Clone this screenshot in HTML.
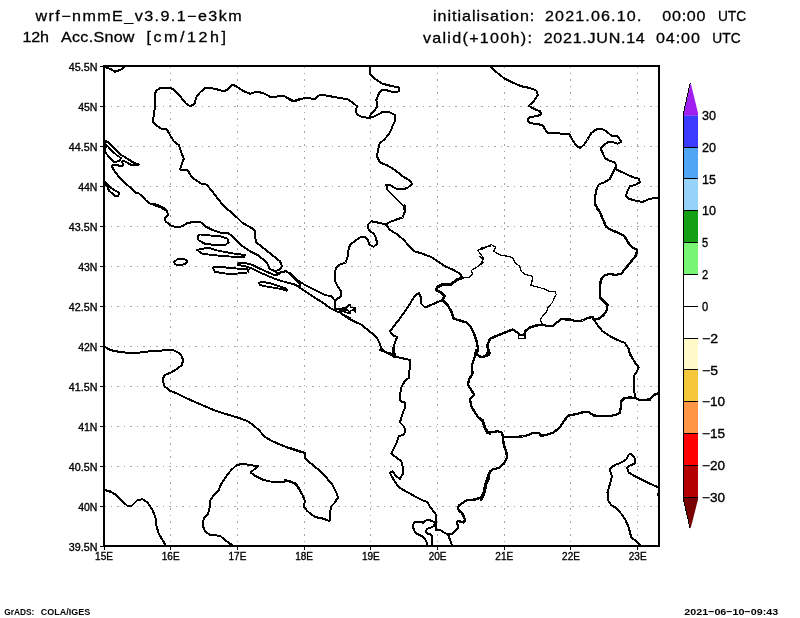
<!DOCTYPE html>
<html><head><meta charset="utf-8"><title>wrf snow</title>
<style>
html,body{margin:0;padding:0;background:#fff;}
body{width:800px;height:618px;overflow:hidden;position:relative;font-family:"Liberation Sans",sans-serif;}
svg{position:absolute;left:0;top:0;display:block;will-change:transform;transform:translateZ(0)}
text{font-family:"Liberation Sans",sans-serif;fill:#000}
.ax{font-size:11px;stroke:#000;stroke-width:.35px}
.ttl{font-family:"Liberation Sans",sans-serif;font-size:14px;stroke:#000;stroke-width:.28px}
.ft{font-family:"Liberation Sans",sans-serif;font-weight:bold;font-size:9.8px}
.cb{font-size:12.5px;stroke:#000;stroke-width:.35px}
</style></head><body>
<svg width="800" height="618" viewBox="0 0 800 618">
<rect x="0" y="0" width="800" height="618" fill="#fff"/>

<g stroke="#a4a4a4" stroke-width="1" stroke-dasharray="1.6 4.9" fill="none" shape-rendering="crispEdges">
<path d="M170.5 66V546"/>
<path d="M237.5 66V546"/>
<path d="M304.5 66V546"/>
<path d="M370.5 66V546"/>
<path d="M437.5 66V546"/>
<path d="M504.5 66V546"/>
<path d="M570.5 66V546"/>
<path d="M637.5 66V546"/>
<path d="M104 106.5H659"/>
<path d="M104 146.5H659"/>
<path d="M104 186.5H659"/>
<path d="M104 226.5H659"/>
<path d="M104 266.5H659"/>
<path d="M104 306.5H659"/>
<path d="M104 346.5H659"/>
<path d="M104 386.5H659"/>
<path d="M104 426.5H659"/>
<path d="M104 466.5H659"/>
<path d="M104 506.5H659"/>
</g>
<clipPath id="c"><rect x="104" y="66" width="555" height="480"/></clipPath>
<g clip-path="url(#c)" fill="none" stroke="#000" stroke-linejoin="round" stroke-linecap="round" shape-rendering="crispEdges">
<path d="M104.25 67.0 L110.0 68.75 L115.0 71.75 L121.25 69.5 L123.75 67.0 L124.5 66.0" stroke-width="2.0"/>
<path d="M300.0 99.5 L293.75 101.25 L288.75 98.75 L283.75 95.75 L275.0 96.75 L270.0 96.75 L263.75 93.25 L257.0 91.75 L250.0 93.75 L243.75 91.25 L236.25 86.25 L232.0 84.5 L227.5 89.5 L223.75 91.25 L217.5 89.5 L211.25 88.0 L205.0 88.0 L200.0 92.5 L196.25 97.5 L194.5 103.75 L190.5 106.25 L186.25 103.75 L180.0 96.25 L172.5 88.75 L167.5 87.5 L161.25 87.5 L157.0 90.0 L154.5 93.75 L154.5 100.0 L154.5 110.0 L153.75 116.25 L152.5 121.25 L155.5 125.0 L161.25 128.75 L167.0 129.5 L170.0 135.0 L173.75 141.25 L178.75 145.0 L181.25 152.5 L183.75 158.75 L182.0 163.75 L180.0 169.5 L187.5 170.0 L190.5 175.0 L193.75 178.75 L201.25 183.75 L206.25 184.5 L211.25 190.0 L218.75 200.0 L227.5 210.0" stroke-width="2.0"/>
<path d="M104.53 140.36 L109.06 142.94 L114.24 148.12 L120.71 154.6 L127.18 158.48 L133.01 162.36 L138.58 164.3 L138.19 165.21 L131.07 164.95 L127.18 162.62 L123.3 160.81 L122.01 162.36 L123.3 163.92 L122.65 165.99 L119.42 165.99 L116.83 164.69 L113.59 164.69 L111.91 165.6 L112.94 168.83 L116.18 173.37 L120.06 178.54 L125.89 183.72 L131.07 188.25 L135.6 192.78 L138.83 193.43 L142.72 196.67 L145.95 200.55 L150.49 203.79 L155.66 204.43 L160.84 206.38 L166.02 209.61" stroke-width="2.0"/>
<path d="M104.53 143.59 L107.12 145.53 L111.65 150.71 L116.83 155.24 L120.71 157.83 L120.06 160.42 L116.83 161.72 L113.59 161.72 L109.71 157.83 L106.47 153.95 L104.53 151.36" stroke-width="1.9"/>
<path d="M104.53 141.65 L105.83 145.53 L105.18 149.42 L104.53 152.01" stroke-width="2.3"/>
<path d="M104.53 181.13 L106.47 183.72 L109.71 186.96 L114.24 190.19 L118.12 192.14 L119.42 194.08 L117.48 196.28 L114.89 195.76 L112.3 193.43 L109.06 190.84 L107.77 187.61 L106.47 185.66 L104.53 185.02" stroke-width="1.9"/>
<path d="M290.0 100.0 L293.75 101.25 L300.0 98.75 L308.75 98.0 L315.0 99.5 L317.5 96.25 L321.25 94.5 L330.0 96.25 L340.0 98.0 L347.5 99.25 L352.5 102.5 L357.0 106.25 L355.5 111.25 L357.5 115.0 L362.5 117.0 L370.0 118.0" stroke-width="2.0"/>
<path d="M370.5 66.25 L369.5 73.75 L375.0 78.75 L382.5 83.75 L392.5 86.25 L398.75 87.5 L398.75 91.25 L393.75 92.5 L387.5 90.5 L382.0 89.5 L378.75 93.75 L376.25 100.0 L377.5 106.25 L373.75 111.25 L370.5 115.0 L370.0 118.0 L376.25 115.5 L382.5 112.0 L390.0 112.5 L395.0 115.0 L395.5 120.0 L392.5 126.25 L390.0 132.5 L385.0 138.75 L379.5 143.75 L378.0 150.0 L377.0 156.25 L380.0 162.5 L387.5 165.5 L395.0 170.0 L402.5 176.25 L410.0 180.75 L412.0 183.75 L407.5 188.0 L401.25 189.5 L396.25 188.75 L390.0 185.0 L386.25 185.0 L387.5 190.0 L392.5 195.0 L400.0 202.5 L403.75 206.25 L404.5 210.0" stroke-width="2.0"/>
<path d="M490.5 66.25 L496.25 72.0 L503.75 78.0 L512.5 82.5 L521.25 86.25 L530.0 88.0 L536.25 90.5 L538.0 95.0 L533.75 101.25 L528.75 105.75 L533.75 108.75 L540.0 111.25 L541.25 114.5 L536.25 116.25 L529.5 117.0 L527.5 120.0 L530.0 123.0 L536.25 124.0 L542.5 125.0 L545.5 130.0 L547.5 133.0 L555.0 133.0 L562.5 133.75 L569.5 134.5 L572.5 140.0 L576.25 145.5 L580.0 148.0 L583.75 145.0 L587.5 139.5 L591.25 133.0 L596.25 129.5 L601.25 128.75 L606.25 131.25 L611.25 135.5 L617.0 136.25 L620.0 139.5 L621.25 142.0 L617.5 143.75 L612.5 142.0 L607.5 142.5 L602.5 146.25 L600.75 148.75 L603.0 153.75 L605.0 158.0 L608.75 160.5 L615.0 162.5 L616.25 166.25 L615.0 168.75" stroke-width="2.0"/>
<path d="M615.0 168.75 L623.75 173.0 L632.5 177.0 L638.75 178.75 L640.0 182.0 L636.25 184.5 L630.0 186.25 L627.5 191.25 L625.75 196.25 L628.75 198.75 L635.0 200.5 L642.5 202.0 L650.0 198.75 L658.75 197.5" stroke-width="2.0"/>
<path d="M615.0 168.75 L612.5 173.75 L610.0 178.75 L605.0 182.0 L598.75 184.5 L596.25 190.0 L595.0 197.5 L595.5 203.75 L597.5 210.0" stroke-width="2.0"/>
<path d="M153.75 205.0 L161.25 207.5 L167.0 211.25 L168.0 215.0 L165.0 217.5 L165.5 221.25 L170.0 225.0 L176.25 227.5 L182.5 226.25 L187.5 223.0 L195.0 221.75 L201.25 222.5 L205.0 226.25 L212.5 230.0 L220.0 232.5 L227.5 233.0 L232.5 236.25 L237.5 241.25 L242.5 246.25 L250.0 251.25 L257.5 255.0 L262.5 258.75 L267.5 263.75 L269.5 268.75 L275.0 271.25 L278.0 273.75 L281.25 272.0 L286.25 271.25 L291.25 275.0 L296.25 280.0 L300.0 283.75" stroke-width="2.0"/>
<path d="M222.5 205.0 L226.25 208.0 L231.25 212.5 L237.0 217.5 L242.5 223.0 L250.0 227.0 L254.5 230.0 L255.0 236.25 L256.25 242.5 L261.25 246.25 L267.5 251.25 L273.75 256.25 L280.0 261.25 L282.0 266.25 L280.0 269.5 L275.0 271.25" stroke-width="2.0"/>
<path d="M197.5 236.25 L200.0 234.5 L210.0 235.5 L220.0 236.25 L227.5 238.75 L228.75 242.5 L225.0 245.0 L215.0 245.0 L205.0 243.75 L198.75 240.5 L197.5 236.25" stroke-width="1.9"/>
<path d="M197.0 250.0 L202.5 248.75 L208.75 247.5 L215.0 250.0 L225.0 252.0 L235.0 253.75 L245.0 255.0 L243.75 257.5 L235.0 256.75 L225.0 256.25 L212.5 255.0 L202.5 253.75 L197.0 250.0" stroke-width="1.9"/>
<path d="M174.0 262.0 L177.5 259.25 L183.75 258.75 L187.5 261.25 L185.0 264.25 L178.75 265.0 L175.0 264.25 L174.0 262.0" stroke-width="1.9"/>
<path d="M213.0 267.5 L220.0 266.75 L230.0 268.0 L240.0 268.75 L248.75 269.5 L247.5 272.5 L240.0 273.25 L230.0 274.25 L222.5 273.0 L215.0 272.0 L213.0 267.5" stroke-width="1.9"/>
<path d="M258.75 283.0 L262.5 281.75 L270.0 283.25 L277.5 285.5 L286.25 288.75 L287.0 290.75 L280.0 288.75 L272.5 287.5 L265.0 286.25 L260.0 285.0 L258.75 283.0" stroke-width="1.9"/>
<path d="M279.5 274.0 L275.0 275.5 L267.5 272.0 L260.0 268.75 L252.5 265.0 L245.0 263.0 L238.75 262.5 L238.0 265.0 L245.0 266.25 L252.5 268.75 L260.0 272.5 L267.5 275.75 L275.0 278.75 L282.5 281.25 L290.0 283.25 L300.0 286.25" stroke-width="1.9"/>
<path d="M104.25 346.25 L110.0 350.0 L120.0 352.0 L130.0 353.0 L140.0 352.5 L150.0 351.25 L162.5 350.5 L172.5 350.0 L177.5 352.0 L181.25 355.0" stroke-width="2.0"/>
<path d="M404.5 205.0 L404.5 212.5 L402.5 217.5 L395.0 220.0 L388.75 222.5 L386.25 225.0" stroke-width="2.0"/>
<path d="M386.25 224.5 L380.0 223.0 L371.25 221.25 L367.5 225.0 L368.75 230.0 L373.75 233.75 L376.25 238.75 L377.0 243.75 L373.75 246.75 L369.5 245.0 L368.0 240.0 L365.0 237.0 L360.0 237.5 L354.5 241.25 L350.0 245.0 L348.0 251.25 L347.5 257.5 L345.5 262.5 L340.0 264.5 L336.25 267.5 L334.5 273.75 L334.5 280.0 L337.5 286.25 L341.25 291.25 L341.25 296.25 L336.25 299.5 L334.5 303.75 L335.0 308.75" stroke-width="2.0"/>
<path d="M290.0 273.25 L297.5 280.0 L305.0 285.0 L315.0 290.0 L325.0 295.0 L331.25 296.25 L334.5 300.0" stroke-width="1.9"/>
<path d="M290.0 283.25 L295.0 284.5 L302.5 289.5 L312.5 296.25 L322.5 302.5 L331.25 308.75 L336.25 311.25 L340.0 312.5 L345.0 316.25 L351.25 320.0 L356.25 322.5 L361.25 324.5 L366.25 328.75 L372.5 333.75 L377.5 338.75 L380.0 343.75 L381.25 348.75 L386.25 352.5 L392.5 353.75" stroke-width="2.0"/>
<path d="M335.0 309.38 L340.0 308.75 L346.25 307.75 L348.75 305.0 L350.0 304.38 L350.62 307.5 L355.0 307.75 L355.62 311.88 L353.75 310.0 L350.62 310.62 L350.0 313.75 L346.25 312.5 L342.5 311.25 L340.0 312.5 L343.75 315.0 L347.5 316.88 L350.0 318.12" stroke-width="1.7"/>
<path d="M340.0 310.0 L347.5 310.0 L349.38 312.5" stroke-width="1.7"/>
<path d="M386.25 225.0 L390.0 230.0 L397.5 234.5 L403.75 240.0 L408.75 245.5 L414.5 251.25 L422.5 253.75 L431.25 257.0 L437.5 261.25 L445.0 266.25 L452.5 269.5 L460.0 273.75 L462.5 278.0" stroke-width="2.0"/>
<path d="M462.5 278.0 L468.75 277.5 L472.5 273.75 L471.25 270.5 L476.25 267.5 L480.5 264.5 L483.75 258.75 L481.25 255.0 L478.0 250.5 L482.5 247.5 L490.0 246.25" stroke-width="1.2"/>
<path d="M462.5 278.0 L456.25 280.0 L451.25 284.5 L442.5 284.5 L437.5 287.0 L436.25 290.0 L441.25 292.5 L444.5 295.5 L442.5 300.0" stroke-width="2.8"/>
<path d="M442.5 300.0 L433.75 303.75 L425.0 307.5 L421.25 303.75 L420.5 296.25 L418.75 293.0 L414.5 296.25 L410.0 303.75 L405.0 311.25 L398.75 320.0 L393.75 326.25 L390.0 331.25 L392.5 335.0 L397.0 337.0 L395.0 342.5 L393.0 348.75 L393.75 355.0" stroke-width="2.0"/>
<path d="M442.5 300.0 L447.5 305.0 L451.25 311.25 L453.75 318.75 L460.0 320.5 L466.25 322.5 L471.25 327.5 L474.5 335.0 L477.0 342.5 L478.0 350.0 L476.25 355.0" stroke-width="2.3"/>
<path d="M595.5 205.0 L599.5 211.25 L603.0 219.5 L606.25 227.0 L612.5 230.5 L618.75 233.0 L624.5 236.25 L628.0 242.5 L632.5 247.5 L637.0 250.0 L636.25 255.0 L631.25 261.25 L626.25 267.5 L621.25 273.75 L615.0 275.0 L610.0 273.75 L604.5 275.5 L600.75 280.0 L600.0 287.5 L600.0 297.5 L603.75 301.25 L607.5 305.0 L607.0 310.0 L603.75 315.0 L598.75 318.75 L593.75 319.5" stroke-width="2.3"/>
<path d="M593.75 319.5 L592.5 317.0 L587.5 318.0 L582.5 320.5 L576.25 321.25 L570.0 319.5 L561.25 319.25 L556.25 323.0 L552.5 326.25 L547.5 326.25 L542.5 324.5" stroke-width="2.3"/>
<path d="M593.75 319.5 L597.5 325.0 L602.5 331.25 L610.0 336.25 L617.5 340.0 L625.0 343.0 L628.75 348.75 L630.0 355.0" stroke-width="2.0"/>
<path d="M480.0 250.0 L485.0 248.0 L491.25 244.5 L495.5 247.0 L493.75 251.25 L500.0 255.0 L507.5 256.25 L512.5 257.5 L515.0 262.5 L519.5 266.25 L521.25 271.25 L525.0 274.5 L532.5 276.25 L532.0 281.25 L530.75 285.5 L537.5 287.0 L543.75 288.75 L548.75 291.25 L555.0 291.25 L556.25 294.5 L553.75 298.75 L552.5 302.5 L548.0 307.5 L546.25 312.5 L542.5 316.25 L540.0 320.0 L542.5 323.75" stroke-width="1.2"/>
<path d="M542.5 324.5 L536.25 325.5 L530.0 327.5 L525.0 331.25 L524.5 334.5 L520.0 335.0 L517.5 332.5 L512.5 329.5 L505.0 332.5 L497.5 335.5 L490.0 338.75 L487.5 345.0 L488.0 351.25 L486.25 355.0" stroke-width="2.4"/>
<path d="M518.75 334.5 L525.0 334.5 L525.0 338.75 L518.75 338.75 L518.75 334.5" stroke-width="1.2"/>
<path d="M480.0 256.25 L482.5 258.75 L483.0 263.0 L480.0 265.0" stroke-width="1.2"/>
<path d="M181.25 355.0 L183.0 360.0 L182.0 365.0 L176.25 369.5 L170.0 373.0 L164.5 375.0 L162.5 380.0 L164.5 386.25 L170.0 390.75 L177.5 393.75 L185.0 397.5 L195.0 402.0 L205.0 406.25 L215.0 410.5 L225.0 413.75 L237.5 417.5 L246.25 420.5 L252.5 424.5 L258.75 430.0 L265.0 437.0 L272.5 441.25 L280.0 444.5 L287.5 447.5 L295.0 450.0 L300.0 452.0" stroke-width="2.0"/>
<path d="M104.25 490.0 L110.0 491.25 L116.25 495.0 L121.25 500.0" stroke-width="2.0"/>
<path d="M380.0 350.0 L386.25 352.5 L393.75 356.25 L401.25 358.0 L410.0 360.0 L410.0 367.5 L408.75 373.75 L409.5 377.5 L405.0 380.5 L401.25 387.5 L400.0 395.0 L400.5 401.25 L405.0 402.5 L404.5 408.75 L402.0 415.0 L400.0 422.5 L403.75 426.25 L405.5 430.5 L403.75 434.5 L398.75 436.25 L396.25 443.75 L393.0 450.0 L391.25 453.75 L396.25 457.5 L401.25 461.25 L403.0 467.5 L403.0 473.75 L400.0 478.75 L396.25 476.25 L392.5 471.25 L390.0 473.0 L393.75 480.0 L398.75 487.0 L403.5 490.0" stroke-width="2.0"/>
<path d="M476.25 350.0 L474.5 357.5 L472.0 365.0 L472.5 373.75 L468.75 380.0 L468.0 385.0 L471.25 390.0 L474.5 395.0 L470.0 398.75 L471.25 406.25 L475.0 412.5 L478.75 418.0 L482.5 420.0 L485.0 427.5 L488.0 432.5 L490.0 433.75" stroke-width="2.3"/>
<path d="M476.25 351.25 L478.75 356.25 L483.75 357.0 L488.75 355.0 L490.0 352.5" stroke-width="2.0"/>
<path d="M290.0 448.0 L297.5 450.5 L305.0 453.0 L305.5 458.75 L311.25 463.75 L318.75 470.0 L326.25 477.5 L332.5 485.0 L336.25 492.5 L338.0 497.5 L336.25 500.0" stroke-width="2.0"/>
<path d="M394.0 346.25 L394.0 352.5 L394.75 357.0" stroke-width="2.8"/>
<path d="M480.0 357.0 L485.0 356.25 L488.75 353.0 L489.5 350.0" stroke-width="2.0"/>
<path d="M628.75 350.0 L631.25 356.25 L635.0 362.5 L638.75 367.5 L636.25 372.5 L633.75 376.25 L633.75 385.0 L634.5 392.5 L635.0 398.0" stroke-width="2.0"/>
<path d="M480.0 418.0 L482.5 421.25 L485.0 428.75 L487.5 433.0 L492.5 432.0 L497.5 431.25 L502.0 432.5 L503.0 437.0" stroke-width="2.3"/>
<path d="M503.0 437.0 L512.5 437.0 L522.5 436.5 L528.75 435.0 L532.5 433.0 L538.75 433.0 L541.25 435.75 L546.25 435.0 L553.75 432.5 L560.0 427.0 L565.0 419.5 L568.75 415.5 L577.5 413.75 L583.75 412.0 L588.75 412.0 L593.75 415.5 L602.5 416.25 L610.0 416.25 L616.25 414.5 L620.0 413.0 L620.75 407.5 L621.25 401.25 L624.5 398.0 L630.0 397.5 L635.0 398.0 L640.0 400.0 L650.0 399.5 L653.75 395.0 L658.75 393.0" stroke-width="2.3"/>
<path d="M503.0 437.0 L503.75 445.0 L506.25 451.25 L507.0 457.5 L503.75 463.75 L498.75 468.0 L492.5 469.5 L489.5 472.5 L488.75 478.75 L486.25 483.75 L485.0 491.25 L482.5 497.5 L481.25 500.0" stroke-width="2.3"/>
<path d="M104.25 490.0 L111.25 492.0 L117.5 496.25 L122.5 501.25 L127.0 505.5 L132.0 505.5 L137.5 500.0 L142.5 499.25 L147.5 502.5 L152.5 510.0 L155.5 517.5 L156.25 525.0 L158.75 533.75 L162.5 540.0 L165.5 545.0" stroke-width="2.0"/>
<path d="M300.0 490.0 L296.25 483.75 L290.0 481.25 L280.0 481.75 L270.0 481.5 L262.5 479.5 L255.0 475.75 L250.75 472.5 L255.0 468.75 L258.0 466.25 L250.0 465.0 L242.0 463.75 L236.25 465.5 L231.25 470.0 L226.25 476.25 L221.25 483.75 L218.75 490.0 L213.75 495.0 L210.5 500.0 L210.0 506.25 L208.0 513.75 L203.75 518.75 L202.5 525.0 L205.0 531.25 L210.0 535.0 L220.0 535.75 L225.0 540.0 L230.0 543.75 L232.5 545.0" stroke-width="2.0"/>
<path d="M336.25 500.0 L335.0 502.5 L331.25 506.25 L330.0 512.5 L329.5 521.25 L323.75 518.75 L315.0 517.0 L307.5 511.25 L303.75 506.25 L305.0 501.25 L302.5 495.0 L298.75 488.75 L295.0 483.75 L290.0 481.75 L285.0 480.0" stroke-width="2.0"/>
<path d="M336.25 492.5 L338.0 497.0 L335.0 502.5" stroke-width="2.0"/>
<path d="M403.4 490.0 L409.71 493.4 L416.5 497.28 L422.33 500.19 L427.67 502.14 L429.13 505.53 L432.04 509.42 L434.95 512.82 L436.12 515.73 L436.12 523.01 L435.73 527.38 L436.12 529.81 L439.81 529.81 L442.72 531.75 L445.63 533.2 L448.06 534.66" stroke-width="2.0"/>
<path d="M490.0 471.25 L487.5 477.5 L485.0 485.0 L483.75 492.5 L481.25 497.5 L475.0 499.5 L467.5 500.0" stroke-width="2.3"/>
<path d="M448.06 534.66 L452.43 533.69 L455.34 530.78 L458.25 527.86 L458.25 525.92 L456.8 523.98 L457.28 521.55 L458.74 520.87 L461.17 522.04 L463.59 522.52 L465.05 520.1 L464.08 517.18 L462.14 513.3 L459.22 510.87 L457.77 507.48 L459.22 505.05 L463.11 502.62 L466.99 500.19 L470.39 499.71" stroke-width="2.3"/>
<path d="M448.06 534.66 L449.51 538.54 L450.97 542.43 L452.43 546.31" stroke-width="2.0"/>
<path d="M434.95 523.01 L432.52 521.07 L429.13 520.1 L427.67 519.61 L425.24 521.07 L423.3 523.01 L421.84 521.55 L415.53 521.55 L413.59 523.5 L412.62 526.41 L414.08 529.81 L415.05 532.23 L418.45 534.66 L421.84 536.12 L424.27 538.06 L426.21 540.97 L427.38 546.31" stroke-width="2.0"/>
<path d="M434.95 523.98 L433.5 526.41 L430.1 527.86 L427.18 528.83 L425.73 531.26 L427.18 533.69 L431.07 534.66 L432.04 536.6 L432.04 546.31" stroke-width="2.0"/>
<path d="M640.0 545.0 L636.25 541.25 L631.25 537.5 L628.75 527.5 L625.5 520.0 L621.25 513.75 L616.25 508.0 L611.25 505.0 L608.0 500.0 L607.5 492.5 L610.0 483.75 L612.0 476.25 L609.5 468.75 L615.0 465.0 L621.25 462.5 L626.25 459.5 L628.75 454.5 L631.25 453.75 L635.0 458.75 L634.5 463.75 L630.0 465.5 L627.0 467.5 L628.75 472.5 L635.0 476.25 L642.5 480.0 L650.0 483.75 L657.5 487.0 L659.25 488.75" stroke-width="2.0"/>
<path d="M659.25 490.0 L658.0 495.0 L658.75 496.25" stroke-width="2.0"/>
</g>
<rect x="104" y="66" width="555" height="480" fill="none" stroke="#000" stroke-width="2"/>
<g stroke="#000" stroke-width="1">
<path d="M104.5 546v4"/>
<path d="M170.5 546v4"/>
<path d="M237.5 546v4"/>
<path d="M304.5 546v4"/>
<path d="M370.5 546v4"/>
<path d="M437.5 546v4"/>
<path d="M504.5 546v4"/>
<path d="M570.5 546v4"/>
<path d="M637.5 546v4"/>
<path d="M104 66.5h-4"/>
<path d="M104 106.5h-4"/>
<path d="M104 146.5h-4"/>
<path d="M104 186.5h-4"/>
<path d="M104 226.5h-4"/>
<path d="M104 266.5h-4"/>
<path d="M104 306.5h-4"/>
<path d="M104 346.5h-4"/>
<path d="M104 386.5h-4"/>
<path d="M104 426.5h-4"/>
<path d="M104 466.5h-4"/>
<path d="M104 506.5h-4"/>
<path d="M104 546.5h-4"/>
</g>
<text class="ax" x="95.1" y="560" textLength="17.8" lengthAdjust="spacingAndGlyphs" xml:space="preserve">15E</text>
<text class="ax" x="161.81" y="560" textLength="17.8" lengthAdjust="spacingAndGlyphs" xml:space="preserve">16E</text>
<text class="ax" x="228.52" y="560" textLength="17.8" lengthAdjust="spacingAndGlyphs" xml:space="preserve">17E</text>
<text class="ax" x="295.23" y="560" textLength="17.8" lengthAdjust="spacingAndGlyphs" xml:space="preserve">18E</text>
<text class="ax" x="361.94" y="560" textLength="17.8" lengthAdjust="spacingAndGlyphs" xml:space="preserve">19E</text>
<text class="ax" x="428.65" y="560" textLength="17.8" lengthAdjust="spacingAndGlyphs" xml:space="preserve">20E</text>
<text class="ax" x="495.36" y="560" textLength="17.8" lengthAdjust="spacingAndGlyphs" xml:space="preserve">21E</text>
<text class="ax" x="562.07" y="560" textLength="17.8" lengthAdjust="spacingAndGlyphs" xml:space="preserve">22E</text>
<text class="ax" x="628.78" y="560" textLength="17.8" lengthAdjust="spacingAndGlyphs" xml:space="preserve">23E</text>
<text class="ax" x="68.8" y="70.6" textLength="28.6" lengthAdjust="spacingAndGlyphs" xml:space="preserve">45.5N</text>
<text class="ax" x="78.2" y="110.6" textLength="19.2" lengthAdjust="spacingAndGlyphs" xml:space="preserve">45N</text>
<text class="ax" x="68.8" y="150.6" textLength="28.6" lengthAdjust="spacingAndGlyphs" xml:space="preserve">44.5N</text>
<text class="ax" x="78.2" y="190.6" textLength="19.2" lengthAdjust="spacingAndGlyphs" xml:space="preserve">44N</text>
<text class="ax" x="68.8" y="230.6" textLength="28.6" lengthAdjust="spacingAndGlyphs" xml:space="preserve">43.5N</text>
<text class="ax" x="78.2" y="270.6" textLength="19.2" lengthAdjust="spacingAndGlyphs" xml:space="preserve">43N</text>
<text class="ax" x="68.8" y="310.6" textLength="28.6" lengthAdjust="spacingAndGlyphs" xml:space="preserve">42.5N</text>
<text class="ax" x="78.2" y="350.6" textLength="19.2" lengthAdjust="spacingAndGlyphs" xml:space="preserve">42N</text>
<text class="ax" x="68.8" y="390.6" textLength="28.6" lengthAdjust="spacingAndGlyphs" xml:space="preserve">41.5N</text>
<text class="ax" x="78.2" y="430.6" textLength="19.2" lengthAdjust="spacingAndGlyphs" xml:space="preserve">41N</text>
<text class="ax" x="68.8" y="470.6" textLength="28.6" lengthAdjust="spacingAndGlyphs" xml:space="preserve">40.5N</text>
<text class="ax" x="78.2" y="510.6" textLength="19.2" lengthAdjust="spacingAndGlyphs" xml:space="preserve">40N</text>
<text class="ax" x="68.8" y="550.6" textLength="28.6" lengthAdjust="spacingAndGlyphs" xml:space="preserve">39.5N</text>
<rect x="683.5" y="115.3" width="14.5" height="32.129999999999995" fill="#3c3cff"/>
<rect x="683.5" y="147.13" width="14.5" height="32.129999999999995" fill="#50a5f5"/>
<rect x="683.5" y="178.96" width="14.5" height="32.129999999999995" fill="#96d2fa"/>
<rect x="683.5" y="210.79" width="14.5" height="32.129999999999995" fill="#14a014"/>
<rect x="683.5" y="242.62" width="14.5" height="32.129999999999995" fill="#78f573"/>
<rect x="683.5" y="274.45" width="14.5" height="32.129999999999995" fill="#ffffff"/>
<rect x="683.5" y="306.28" width="14.5" height="32.129999999999995" fill="#ffffff"/>
<rect x="683.5" y="338.11" width="14.5" height="32.129999999999995" fill="#fffac8"/>
<rect x="683.5" y="369.94" width="14.5" height="32.129999999999995" fill="#f5c83c"/>
<rect x="683.5" y="401.77" width="14.5" height="32.129999999999995" fill="#ff9646"/>
<rect x="683.5" y="433.6" width="14.5" height="32.129999999999995" fill="#ff0000"/>
<rect x="683.5" y="465.43" width="14.5" height="32.129999999999995" fill="#b40000"/>
<path d="M683.5 115.6 V113 L690.7 83 L698 113 V115.6 Z" fill="#a01ef0"/>
<path d="M683.5 497.26 V499.5 L690.5 528.7 L698 499.5 V497.26 Z" fill="#780000"/>
<g stroke="#000" stroke-width="1" fill="none" shape-rendering="crispEdges">
<path d="M690 528 L683.5 499.5 V113 L690.2 83"/>
<path d="M683.5 147.5H698"/>
<path d="M683.5 178.5H698"/>
<path d="M683.5 210.5H698"/>
<path d="M683.5 242.5H698"/>
<path d="M683.5 274.5H698"/>
<path d="M683.5 306.5H698"/>
<path d="M683.5 338.5H698"/>
<path d="M683.5 369.5H698"/>
<path d="M683.5 401.5H698"/>
<path d="M683.5 433.5H698"/>
<path d="M683.5 465.5H698"/>
<path d="M683.5 497.5H698"/>
</g>
<text class="cb" x="702" y="119.9" textLength="14" lengthAdjust="spacingAndGlyphs" xml:space="preserve">30</text>
<text class="cb" x="702" y="151.7" textLength="14" lengthAdjust="spacingAndGlyphs" xml:space="preserve">20</text>
<text class="cb" x="702" y="183.6" textLength="14" lengthAdjust="spacingAndGlyphs" xml:space="preserve">15</text>
<text class="cb" x="702" y="215.4" textLength="14" lengthAdjust="spacingAndGlyphs" xml:space="preserve">10</text>
<text class="cb" x="702" y="247.2" textLength="6.2" lengthAdjust="spacingAndGlyphs" xml:space="preserve">5</text>
<text class="cb" x="702" y="279.1" textLength="6.2" lengthAdjust="spacingAndGlyphs" xml:space="preserve">2</text>
<text class="cb" x="702" y="310.9" textLength="6.2" lengthAdjust="spacingAndGlyphs" xml:space="preserve">0</text>
<text class="cb" x="702" y="342.7" textLength="16" lengthAdjust="spacingAndGlyphs" xml:space="preserve">−2</text>
<text class="cb" x="702" y="374.5" textLength="16" lengthAdjust="spacingAndGlyphs" xml:space="preserve">−5</text>
<text class="cb" x="702" y="406.4" textLength="23" lengthAdjust="spacingAndGlyphs" xml:space="preserve">−10</text>
<text class="cb" x="702" y="438.2" textLength="23" lengthAdjust="spacingAndGlyphs" xml:space="preserve">−15</text>
<text class="cb" x="702" y="470.0" textLength="23" lengthAdjust="spacingAndGlyphs" xml:space="preserve">−20</text>
<text class="cb" x="702" y="501.9" textLength="23" lengthAdjust="spacingAndGlyphs" xml:space="preserve">−30</text>
<text class="ttl" transform="translate(35.5 20.6) scale(1.15 1)" x="0" y="0" textLength="179.22" lengthAdjust="spacing" xml:space="preserve">wrf−nmmE_v3.9.1−e3km</text>
<text class="ttl" transform="translate(22.6 42) scale(1.15 1)" x="0" y="0" textLength="22.96" lengthAdjust="spacing" xml:space="preserve">12h</text>
<text class="ttl" transform="translate(61 42) scale(1.15 1)" x="0" y="0" textLength="63.91" lengthAdjust="spacing" xml:space="preserve">Acc.Snow</text>
<text class="ttl" transform="translate(146.5 42) scale(1.15 1)" x="0" y="0" textLength="69.13" lengthAdjust="spacing" xml:space="preserve">[cm/12h]</text>
<text class="ttl" transform="translate(433 20.8) scale(1.15 1)" x="0" y="0" textLength="88.09" lengthAdjust="spacing" xml:space="preserve">initialisation:</text>
<text class="ttl" transform="translate(545 20.8) scale(1.15 1)" x="0" y="0" textLength="83.83" lengthAdjust="spacing" xml:space="preserve">2021.06.10.</text>
<text class="ttl" transform="translate(662.3 20.8) scale(1.15 1)" x="0" y="0" textLength="37.57" lengthAdjust="spacing" xml:space="preserve">00:00</text>
<text class="ttl" x="717.9" y="20.8" textLength="28.3" lengthAdjust="spacingAndGlyphs" xml:space="preserve">UTC</text>
<text class="ttl" transform="translate(422.9 42.5) scale(1.15 1)" x="0" y="0" textLength="94.87" lengthAdjust="spacing" xml:space="preserve">valid(+100h):</text>
<text class="ttl" transform="translate(543.7 42.5) scale(1.15 1)" x="0" y="0" textLength="87.91" lengthAdjust="spacing" xml:space="preserve">2021.JUN.14</text>
<text class="ttl" transform="translate(656 42.5) scale(1.15 1)" x="0" y="0" textLength="38.17" lengthAdjust="spacing" xml:space="preserve">04:00</text>
<text class="ttl" x="712.3" y="42.5" textLength="28.3" lengthAdjust="spacingAndGlyphs" xml:space="preserve">UTC</text>
<text class="ft" x="4.2" y="615.3" textLength="30.2" lengthAdjust="spacingAndGlyphs" xml:space="preserve">GrADS:</text>
<text class="ft" x="40.8" y="615.3" textLength="49.4" lengthAdjust="spacingAndGlyphs" xml:space="preserve">COLA/IGES</text>
<text class="ft" x="684.3" y="615.3" textLength="93.9" lengthAdjust="spacingAndGlyphs" xml:space="preserve">2021−06−10−09:43</text>
</svg></body></html>
